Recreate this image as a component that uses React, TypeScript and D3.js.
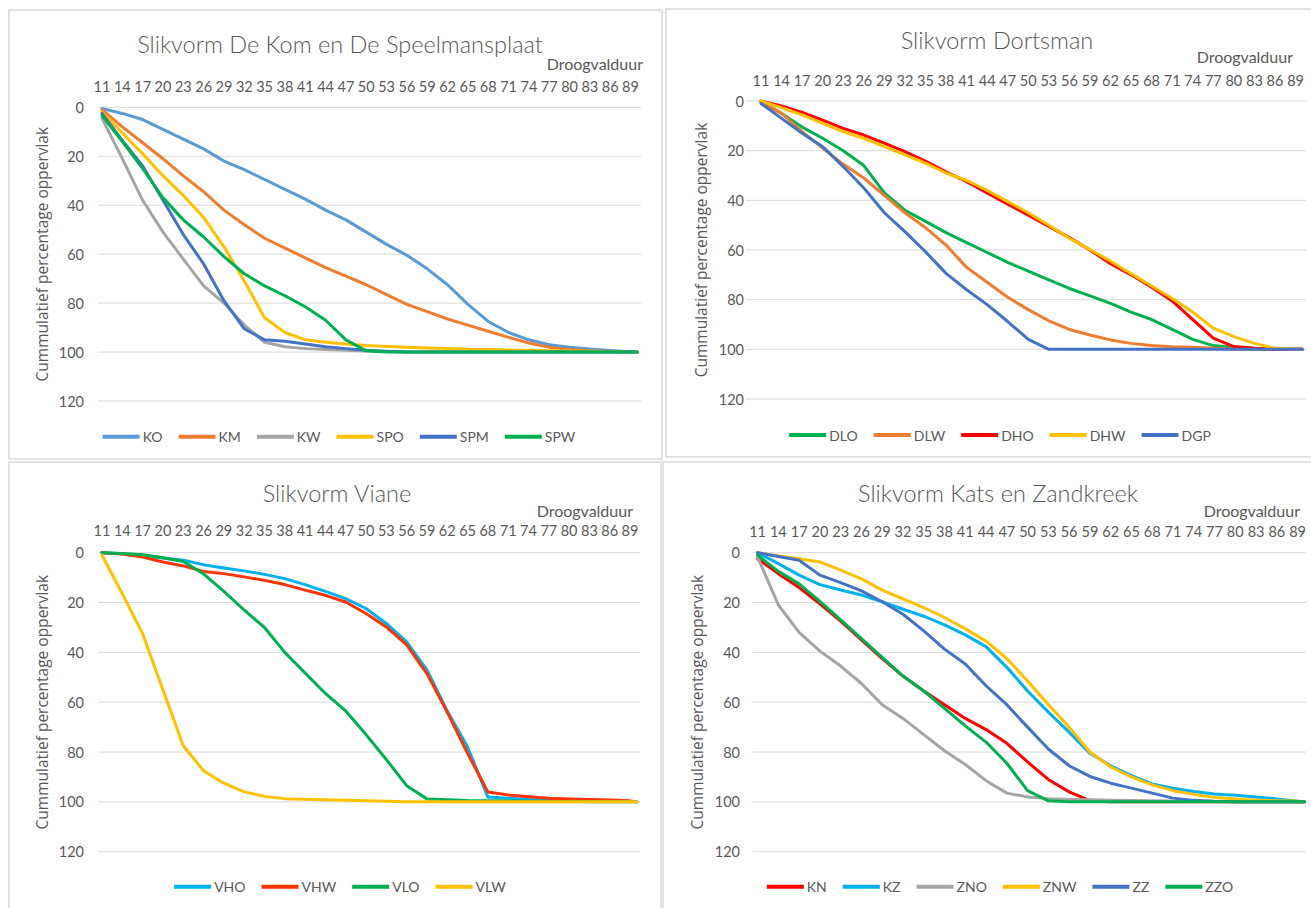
import React from 'react';
import * as d3 from 'd3';

// ---------- shared categories / ticks ----------
const DAYS = [11, 14, 17, 20, 23, 26, 29, 32, 35, 38, 41, 44, 47, 50, 53, 56, 59, 62, 65, 68, 71, 74, 77, 80, 83, 86, 89, 90];
const TICK_DAYS = [11, 14, 17, 20, 23, 26, 29, 32, 35, 38, 41, 44, 47, 50, 53, 56, 59, 62, 65, 68, 71, 74, 77, 80, 83, 86, 89];
const Y_TICKS = [0, 20, 40, 60, 80, 100, 120];
const X_LABEL = 'Droogvalduur';
const Y_LABEL = 'Cummulatief percentage oppervlak';

// ---------- panel 1: De Kom en De Speelmansplaat ----------
const KO = [0.5, 2.5, 5, 9, 13, 17, 22, 25.5, 29.5, 33.5, 37.5, 42, 46, 51, 56, 60.5, 66, 72.5, 80.5, 87.5, 92, 95, 97, 98, 98.8, 99.4, 99.9, 100];
const KM = [1, 8, 14.5, 21, 28, 34.5, 42, 48, 53.5, 57.5, 61.5, 65.5, 69, 72.5, 76.5, 80.5, 83.5, 86.5, 89, 91.5, 94, 96.3, 98, 99, 99.5, 99.8, 100, 100];
const KW = [4.5, 21, 38, 51, 62, 73, 80, 89, 96, 97.8, 98.6, 99, 99.3, 99.6, 99.8, 100, 100, 100, 100, 100, 100, 100, 100, 100, 100, 100, 100, 100];
const SPO = [2, 10.5, 19, 28, 36, 45, 57, 71, 86, 92, 95, 96, 96.7, 97.3, 97.7, 98, 98.3, 98.6, 98.9, 99, 99.2, 99.3, 99.5, 99.6, 99.7, 99.8, 100, 100];
const SPM = [2.5, 13.5, 24, 38, 52, 64, 79, 90.5, 95, 95.6, 96.7, 97.8, 98.6, 99.3, 99.7, 100, 100, 100, 100, 100, 100, 100, 100, 100, 100, 100, 100, 100];
const SPW = [3.4, 14, 25, 37, 46, 53, 61, 68, 73, 77, 81.5, 87, 95, 99.5, 100, 100, 100, 100, 100, 100, 100, 100, 100, 100, 100, 100, 100, 100];

// ---------- panel 2: Dortsman ----------
const DLO = [0.3, 5, 10.5, 15, 20, 26, 37, 44, 48.5, 53, 57, 61, 65, 68.5, 72, 75.5, 78.5, 81.5, 85, 88, 92, 96, 98.5, 99.3, 99.6, 100, 100, 100];
const DLW = [0.3, 5, 12.3, 19, 25.5, 31, 38, 45, 51, 58, 67, 73, 79, 84, 88.5, 92, 94.2, 96.2, 97.6, 98.5, 99, 99.2, 99.6, 99.9, 100, 100, 100, 100];
const DHO = [0, 2, 4.6, 7.7, 11, 13.7, 17, 20.4, 24.2, 28.5, 32.5, 37, 41.5, 46, 50.5, 55, 60, 65.5, 70, 75, 80.5, 88, 95.5, 98.9, 99.6, 99.9, 100, 100];
const DHW = [0, 2.7, 5.6, 9, 12.3, 15, 18.4, 21.7, 25, 29, 32, 36, 40.5, 45, 50, 55.3, 59.8, 64.5, 69.5, 74.5, 79.5, 85, 91.5, 94.9, 97.6, 99.6, 100, 100];
const DGP = [1, 7, 13, 18.4, 26.4, 35, 45, 52.6, 60.7, 69.4, 76, 82, 88.8, 96, 100, 100, 100, 100, 100, 100, 100, 100, 100, 100, 100, 100, 100, 100];

// ---------- panel 3: Viane ----------
const VHO = [0, 0.4, 1, 2.1, 3, 4.8, 6.1, 7.3, 8.7, 10.4, 12.8, 15.5, 18.4, 22.4, 28.4, 35.8, 47, 63.5, 78, 98, 98.5, 99, 99.2, 99.5, 99.6, 99.7, 99.9, 100];
const VHW = [0, 0.5, 1.7, 3.7, 5.3, 7.5, 8.4, 9.7, 11.1, 12.8, 15, 17.1, 19.8, 24.4, 29.8, 37, 48.5, 64, 80.5, 96, 97.2, 97.9, 98.5, 98.8, 99, 99.3, 99.6, 100];
const VLO = [0, 0.3, 0.8, 2, 3.5, 8.5, 15.5, 23, 30, 40, 48.3, 56.5, 63.5, 73, 83, 93.5, 98.8, 99.2, 99.5, 99.6, 99.7, 99.8, 99.9, 99.9, 100, 100, 100, 100];
const VLW = [1, 16.5, 32.5, 55, 77.5, 87.5, 92.5, 96, 97.8, 98.7, 99, 99.2, 99.4, 99.6, 99.8, 100, 100, 100, 100, 100, 100, 100, 100, 100, 100, 100, 100, 100];

// ---------- panel 4: Kats en Zandkreek ----------
const KN = [2.4, 8.4, 14, 20.5, 27.5, 35, 42.5, 49.5, 55.5, 61, 66.5, 71, 76.5, 84, 91, 96, 99.5, 100, 100, 100, 100, 100, 100, 100, 100, 100, 100, 100];
const KZ = [0, 4.4, 9, 12.8, 15, 17, 19.7, 22.7, 25.5, 29, 33, 37.7, 46, 55.5, 64, 72, 80.5, 85.5, 89.5, 92.8, 94.5, 95.8, 96.8, 97.3, 98, 98.8, 99.7, 100];
const ZNO = [1.7, 21, 32, 39.5, 45.5, 52.5, 61, 66.5, 73, 79.5, 85, 91.5, 96.5, 98, 98.7, 99, 99.2, 99.4, 99.5, 99.6, 99.7, 99.8, 99.9, 100, 100, 100, 100, 100];
const ZNW = [0, 1.3, 2.4, 3.7, 7, 10.5, 15, 18.5, 22, 26, 30.5, 35.5, 42.5, 51.5, 61, 70, 80, 86, 90, 93.2, 95.5, 97, 98.2, 98.8, 99.3, 99.6, 99.8, 100];
const ZZ = [0, 1.5, 3, 9, 12, 15.3, 19.7, 24.7, 31.4, 38.7, 44.7, 53.4, 61, 70, 78.8, 85.5, 89.8, 92.5, 94.5, 96.5, 98.5, 99.4, 99.8, 100, 100, 100, 100, 100];
const ZZO = [1, 7.5, 12.5, 19.5, 27, 34.5, 42, 49.5, 55.5, 62.5, 69.5, 76, 84.5, 95.5, 99.6, 100, 100, 100, 100, 100, 100, 100, 100, 100, 100, 100, 100, 100];

type Series = { name: string; color: string; values: number[] };
type Panel = {
  title: string;
  series: Series[];
  box: [number, number, number, number];
  titleX: number; titleY: number;
  xlabRight: number; xlabY: number;
  tickY: number;
  x0: number; x1: number;
  y0: number; y1: number;
  gridL: number; gridR: number;
  yLabRight: number;
  yTitleX: number;
  legendX: number; legendY: number;
};

const PANELS: Panel[] = [
  {
    title: 'Slikvorm De Kom en De Speelmansplaat',
    series: [
      { name: 'KO', color: '#5B9BD5', values: KO },
      { name: 'KM', color: '#ED7D31', values: KM },
      { name: 'KW', color: '#A5A5A5', values: KW },
      { name: 'SPO', color: '#FFC000', values: SPO },
      { name: 'SPM', color: '#4472C4', values: SPM },
      { name: 'SPW', color: '#00B050', values: SPW },
    ],
    box: [9, 10, 653, 449],
    titleX: 340, titleY: 43.5,
    xlabRight: 643, xlabY: 63.5,
    tickY: 86,
    x0: 102, x1: 637.3,
    y0: 107.3, y1: 401,
    gridL: 98, gridR: 641,
    yLabRight: 84,
    yTitleX: 42,
    legendX: 339, legendY: 436.7,
  },
  {
    title: 'Slikvorm Dortsman',
    series: [
      { name: 'DLO', color: '#00B050', values: DLO },
      { name: 'DLW', color: '#ED7D31', values: DLW },
      { name: 'DHO', color: '#FF0000', values: DHO },
      { name: 'DHW', color: '#FFC000', values: DHW },
      { name: 'DGP', color: '#4472C4', values: DGP },
    ],
    box: [666, 9, 670, 448],
    titleX: 997, titleY: 40,
    xlabRight: 1293, xlabY: 56,
    tickY: 80,
    x0: 761, x1: 1302.4,
    y0: 101, y1: 399,
    gridL: 746, gridR: 1306,
    yLabRight: 744,
    yTitleX: 701,
    legendX: 1000, legendY: 435,
  },
  {
    title: 'Slikvorm Viane',
    series: [
      { name: 'VHO', color: '#00B0F0', values: VHO },
      { name: 'VHW', color: '#FF3300', values: VHW },
      { name: 'VLO', color: '#00B050', values: VLO },
      { name: 'VLW', color: '#FFC000', values: VLW },
    ],
    box: [9, 462, 652, 460],
    titleX: 337, titleY: 493,
    xlabRight: 633, xlabY: 510.7,
    tickY: 530.7,
    x0: 102, x1: 636.8,
    y0: 552.7, y1: 851.7,
    gridL: 98, gridR: 640,
    yLabRight: 84,
    yTitleX: 42,
    legendX: 340, legendY: 886.7,
  },
  {
    title: 'Slikvorm Kats en Zandkreek',
    series: [
      { name: 'KN', color: '#FF0000', values: KN },
      { name: 'KZ', color: '#00B0F0', values: KZ },
      { name: 'ZNO', color: '#A5A5A5', values: ZNO },
      { name: 'ZNW', color: '#FFC000', values: ZNW },
      { name: 'ZZ', color: '#4472C4', values: ZZ },
      { name: 'ZZO', color: '#00B050', values: ZZO },
    ],
    box: [663, 462, 670, 460],
    titleX: 998, titleY: 493.3,
    xlabRight: 1300, xlabY: 510,
    tickY: 531,
    x0: 757.6, x1: 1304.5,
    y0: 552.7, y1: 851.7,
    gridL: 752.6, gridR: 1306,
    yLabRight: 740,
    yTitleX: 697,
    legendX: 1000, legendY: 886.7,
  },
];

const FONT = 'Lato, "Open Sans", sans-serif';
const TEXT = '#595959';
const LEG_SIZE = 14;

let measureCtx: CanvasRenderingContext2D | null = null;
function textWidth(t: string, size: number, family: string): number {
  if (!measureCtx && typeof document !== 'undefined') {
    measureCtx = document.createElement('canvas').getContext('2d');
  }
  if (!measureCtx) return t.length * size * 0.55;
  measureCtx.font = `${size}px ${family}`;
  return measureCtx.measureText(t).width;
}

function ChartPanel({ p }: { p: Panel }) {
  const xs = d3.scaleLinear().domain([11, 90]).range([p.x0, p.x1]);
  const ys = d3.scaleLinear().domain([0, 120]).range([p.y0, p.y1]);
  const line = d3
    .line<number>()
    .x((_, i) => xs(DAYS[i]))
    .y((v) => ys(v));

  const SW = 37, GAP = 3, SP = 16;
  const widths = p.series.map((s) => textWidth(s.name, LEG_SIZE, FONT));
  const total = widths.reduce((a, w) => a + SW + GAP + w + SP, 0) - SP;
  let cursor = p.legendX - total / 2;
  const legendItems = p.series.map((s, i) => {
    const x = cursor;
    cursor += SW + GAP + widths[i] + SP;
    return { s, x };
  });

  const [bx, by, bw, bh] = p.box;
  const yMid = (ys(0) + ys(120)) / 2;

  return (
    <g>
      <rect x={bx} y={by} width={bw} height={bh} fill="#ffffff" stroke="#d9d9d9" strokeWidth={1.5} />
      {Y_TICKS.map((t) => (
        <line key={t} x1={p.gridL} x2={p.gridR} y1={ys(t)} y2={ys(t)} stroke="#d9d9d9" strokeWidth={1} />
      ))}
      {Y_TICKS.map((t) => (
        <text key={'yl' + t} x={p.yLabRight} y={ys(t)} textAnchor="end" dominantBaseline="central"
          fontFamily={FONT} fontSize={14.5} fill={TEXT}>{t}</text>
      ))}
      {TICK_DAYS.map((d) => (
        <text key={'xl' + d} x={xs(d)} y={p.tickY} textAnchor="middle" dominantBaseline="central"
          fontFamily={FONT} fontSize={14.5} fill={TEXT}>{d}</text>
      ))}
      <text x={p.titleX} y={p.titleY} textAnchor="middle" dominantBaseline="central"
        fontFamily={FONT} fontWeight={300} fontSize={23.5} fill={TEXT}>{p.title}</text>
      <text x={p.xlabRight} y={p.xlabY} textAnchor="end" dominantBaseline="central"
        fontFamily={FONT} fontSize={16} fill={TEXT}>{X_LABEL}</text>
      <text x={p.yTitleX} y={yMid} textAnchor="middle" dominantBaseline="central"
        transform={`rotate(-90 ${p.yTitleX} ${yMid})`}
        fontFamily='"Open Sans", sans-serif' fontSize={15.5} fill={TEXT}>{Y_LABEL}</text>
      {p.series.map((s) => (
        <path key={s.name} d={line(s.values) || ''} fill="none" stroke={s.color} strokeWidth={3}
          strokeLinejoin="round" strokeLinecap="round" />
      ))}
      {legendItems.map(({ s, x }) => (
        <g key={'lg' + s.name}>
          <line x1={x} x2={x + SW} y1={p.legendY} y2={p.legendY} stroke={s.color} strokeWidth={4} />
          <text x={x + SW + GAP} y={p.legendY} dominantBaseline="central" fontFamily={FONT}
            fontSize={LEG_SIZE} fill={TEXT}>{s.name}</text>
        </g>
      ))}
    </g>
  );
}

export default function App() {
  return (
    <svg width={1311} height={908} style={{ position: 'absolute', left: 0, top: 0, background: '#ffffff' }}>
      <rect x={0} y={0} width={1311} height={908} fill="#ffffff" />
      {PANELS.map((p) => (
        <ChartPanel key={p.title} p={p} />
      ))}
    </svg>
  );
}
